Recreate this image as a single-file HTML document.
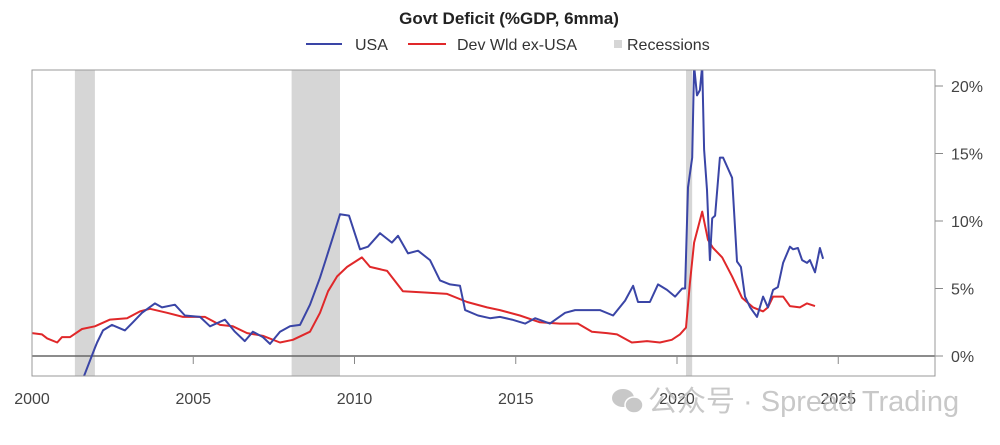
<!DOCTYPE html>
<html><head><meta charset="utf-8"><style>
html,body{margin:0;padding:0;background:#fff;}
body{width:1000px;height:440px;overflow:hidden;font-family:"Liberation Sans","Noto Sans CJK SC",sans-serif;}
svg text{font-family:"Liberation Sans","Noto Sans CJK SC",sans-serif;}
</style></head><body>
<svg id="chart" width="1000" height="440" xmlns="http://www.w3.org/2000/svg">
<text x="509" y="24" text-anchor="middle" font-size="17" font-weight="bold" fill="#222">Govt Deficit (%GDP, 6mma)</text>
<g>
 <g><line x1="306" y1="44" x2="342" y2="44" stroke="#3a45a6" stroke-width="2"/><text x="355" y="50" font-size="16" fill="#333">USA</text></g>
 <g><line x1="408" y1="44" x2="446" y2="44" stroke="#e0282a" stroke-width="2"/><text x="457" y="50" font-size="16" fill="#333">Dev Wld ex-USA</text></g>
 <g><rect x="614" y="40" width="8" height="8" fill="#d6d6d6"/><text x="627" y="50" font-size="16" fill="#333">Recessions</text></g>
</g>
<g id="plot"></g>
<g opacity="0.8">
 <ellipse cx="623" cy="398" rx="11" ry="9" fill="#bbb"/>
 <ellipse cx="634" cy="405" rx="9" ry="8" fill="#bbb" stroke="#fff" stroke-width="1.5"/>
 <text x="648" y="411" font-size="29" fill="#bbb">公众号 · Spread Trading</text>
</g>
</svg>
<script>
const recStart=[2001.33,2008.05,2020.28];
const recEnd=[2001.95,2009.55,2020.47];
const usaYears=[2001.61,2001.95,2002.02,2002.20,2002.48,2002.88,2003.13,2003.41,2003.81,2004.03,2004.43,2004.74,2005.21,2005.52,2005.98,2006.29,2006.60,2006.85,2007.16,2007.38,2007.69,2008.00,2008.31,2008.62,2008.93,2009.09,2009.33,2009.55,2009.83,2010.17,2010.42,2010.79,2011.16,2011.35,2011.66,2011.97,2012.34,2012.65,2012.96,2013.27,2013.43,2013.83,2014.20,2014.51,2014.88,2015.29,2015.60,2016.06,2016.53,2016.84,2017.30,2017.61,2018.02,2018.39,2018.64,2018.79,2019.16,2019.41,2019.69,2019.94,2020.16,2020.25,2020.34,2020.47,2020.53,2020.62,2020.71,2020.78,2020.84,2020.93,2021.02,2021.09,2021.18,2021.33,2021.43,2021.71,2021.86,2021.98,2022.11,2022.27,2022.48,2022.67,2022.82,2022.98,2023.13,2023.29,2023.50,2023.60,2023.75,2023.88,2024.03,2024.12,2024.28,2024.43,2024.53];
const usaValues=[-1.5,0.6,1.0,1.9,2.3,1.9,2.5,3.2,3.9,3.6,3.8,3.0,2.9,2.2,2.7,1.8,1.1,1.8,1.4,0.9,1.8,2.2,2.3,3.8,5.8,7.0,8.8,10.5,10.4,7.9,8.1,9.1,8.4,8.9,7.6,7.8,7.1,5.6,5.3,5.2,3.4,3.0,2.8,2.9,2.7,2.4,2.8,2.4,3.2,3.4,3.4,3.4,3.0,4.1,5.2,4.0,4.0,5.3,4.9,4.4,5.0,5.0,12.5,14.7,21.5,19.3,19.7,21.5,15.3,12.3,7.1,10.2,10.4,14.7,14.7,13.2,7.0,6.6,4.4,3.6,2.9,4.4,3.6,4.9,5.1,6.9,8.1,7.9,8.0,7.1,6.9,7.1,6.2,8.0,7.2];
const devYears=[2000.0,2000.31,2000.47,2000.78,2000.93,2001.18,2001.55,2001.95,2002.42,2002.95,2003.35,2003.66,2004.19,2004.68,2005.36,2005.83,2006.23,2006.67,2007.16,2007.69,2008.09,2008.62,2008.93,2009.18,2009.46,2009.77,2010.23,2010.48,2011.01,2011.50,2012.25,2012.87,2013.49,2014.11,2014.51,2015.13,2015.75,2016.37,2016.93,2017.36,2017.83,2018.14,2018.60,2019.07,2019.47,2019.84,2020.09,2020.28,2020.40,2020.53,2020.78,2020.96,2021.12,2021.40,2021.71,2022.02,2022.36,2022.67,2022.82,2022.98,2023.29,2023.50,2023.81,2024.03,2024.28];
const devValues=[1.7,1.6,1.3,1.0,1.4,1.4,2.0,2.2,2.7,2.8,3.3,3.5,3.2,2.9,2.9,2.3,2.2,1.7,1.5,1.0,1.2,1.8,3.2,4.8,5.9,6.6,7.3,6.6,6.3,4.8,4.7,4.6,4.0,3.6,3.4,3.0,2.5,2.4,2.4,1.8,1.7,1.6,1.0,1.1,1.0,1.2,1.6,2.1,5.4,8.4,10.7,8.6,8.0,7.3,5.9,4.3,3.6,3.3,3.6,4.4,4.4,3.7,3.6,3.9,3.7];
const yTicks=[0,5,10,15,20];
const xTicks=[2000,2005,2010,2015,2020,2025];
const L=32,R=935,T=70,B=376;
const X=y=>L+(y-2000)*32.25;
const Y=v=>356-v*13.5;
const NS='http://www.w3.org/2000/svg';
const plot=document.getElementById('plot');
function mk(tag,attrs,parent){const e=document.createElementNS(NS,tag);for(const k in attrs)e.setAttribute(k,attrs[k]);(parent||plot).appendChild(e);return e;}
const svg=document.getElementById('chart');
const defs=mk('defs',{},svg);
const cp=mk('clipPath',{id:'clip'},defs);
mk('rect',{x:L,y:T,width:R-L,height:B-T},cp);
recStart.forEach((s,i)=>{
 const r=mk('rect',{x:X(s),y:T,width:X(recEnd[i])-X(s),height:B-T,fill:'#d6d6d6'});
 
 
});
const zl=mk('line',{x1:L,x2:R,y1:Y(0),y2:Y(0),stroke:'#666','stroke-width':1.5});


xTicks.forEach(t=>{
 if(t>2000){const tk=mk('line',{x1:X(t),x2:X(t),y1:Y(0),y2:Y(0)+8,stroke:'#888','stroke-width':1});
 
 }
 const tx=mk('text',{x:X(t),y:404,'text-anchor':'middle','font-size':16,fill:'#444'});
 tx.textContent=t;
 
 
});
yTicks.forEach(t=>{
 const tk=mk('line',{x1:R,x2:R+8,y1:Y(t),y2:Y(t),stroke:'#888','stroke-width':1});
 
 
 const tx=mk('text',{x:951,y:Y(t)+6,'font-size':16,fill:'#444'});
 tx.textContent=t+'%';
 
 
});
function line(xs,vs,color,name){
 const d=xs.map((x,i)=>(i?'L':'M')+X(x).toFixed(1)+','+Y(vs[i]).toFixed(1)).join('');
 const p=mk('path',{d:d,fill:'none',stroke:color,'stroke-width':2,'stroke-linejoin':'round','clip-path':'url(#clip)'});
 
 
}
line(devYears,devValues,'#e0282a','dev-wld-line');
line(usaYears,usaValues,'#3a45a6','usa-line');
const fr=mk('rect',{x:L,y:T,width:R-L,height:B-T,fill:'none',stroke:'#999','stroke-width':1});


</script>
</body></html>
